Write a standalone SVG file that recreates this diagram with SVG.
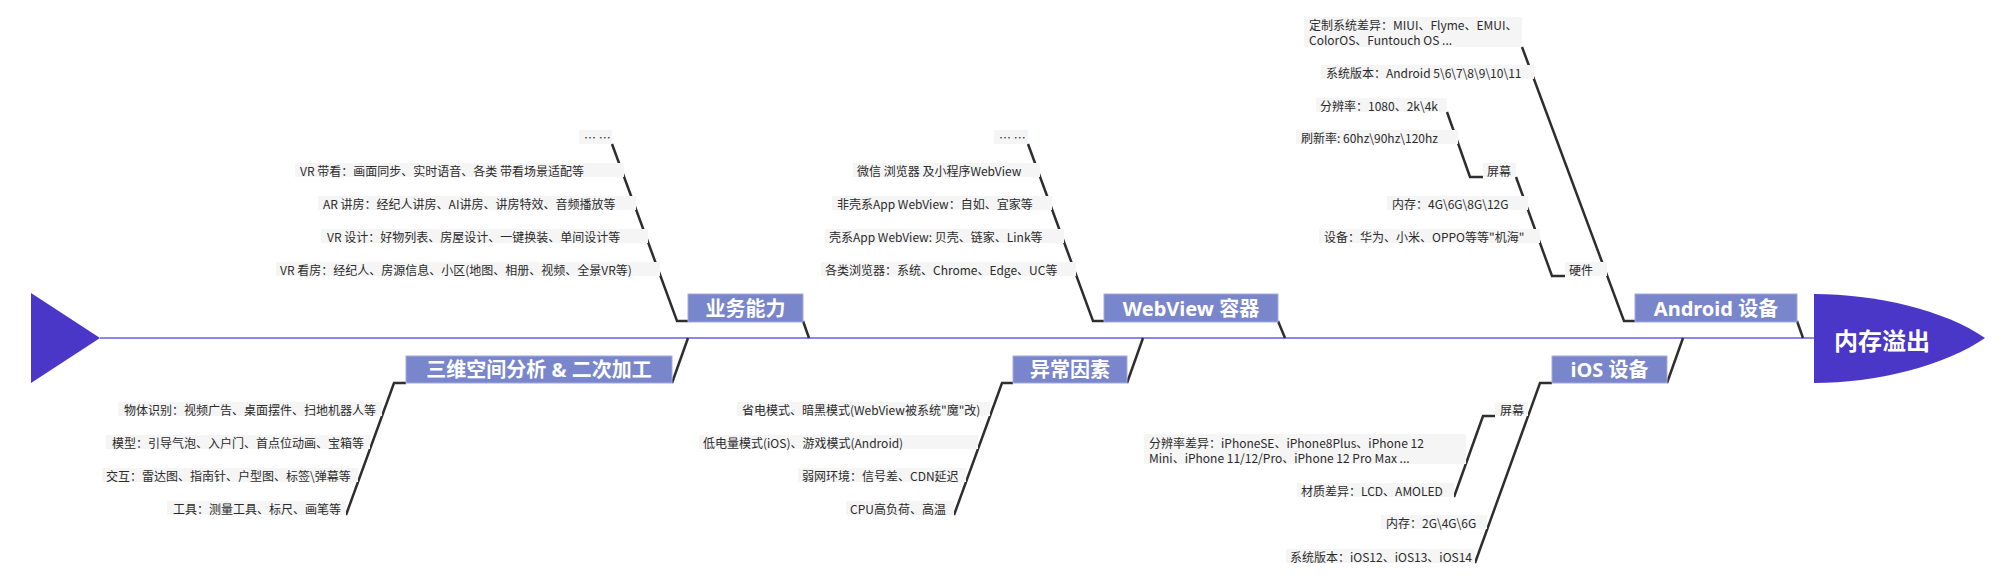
<svg xmlns="http://www.w3.org/2000/svg" width="2002" height="579" viewBox="0 0 2002 579">
<style>
.bone{fill:none;stroke:#2e2e2e;stroke-width:2.5;stroke-linejoin:miter}
.spine{stroke:#6b5ce0;stroke-width:1.6}
.lb rect{fill:#f5f5f5}
.lb text{font-family:"Noto Sans CJK SC","Noto Sans",sans-serif;font-size:12px;fill:#2b2b2b;dominant-baseline:central}
.mb rect{fill:#7986cb;stroke:#a3aae0;stroke-width:1}
.mb text{font-family:"Noto Sans","Noto Sans CJK SC",sans-serif;font-size:20px;font-weight:bold;fill:#ffffff;text-anchor:middle;dominant-baseline:central}
.hd{fill:#4a37c8}
.hd text{font-family:"Noto Sans CJK SC",sans-serif;font-size:24px;font-weight:bold;fill:#ffffff;text-anchor:middle;dominant-baseline:central}
</style>
<rect x="0" y="0" width="2002" height="579" fill="#ffffff"/>
<g id="connectors">
<line class="spine" x1="100" y1="338" x2="1815" y2="338"/>
<polyline class="bone" points="612,144 677,321 688,321"/>
<line class="bone" x1="803" y1="321" x2="809" y2="338"/>
<line class="bone" x1="688" y1="338" x2="672" y2="383"/>
<polyline class="bone" points="406,383 394,383 346,515"/>
<polyline class="bone" points="1028,144 1093,321 1104,321"/>
<line class="bone" x1="1278" y1="321" x2="1285" y2="338"/>
<line class="bone" x1="1143" y1="338" x2="1127" y2="383"/>
<polyline class="bone" points="1013,383 1002,383 954,515"/>
<polyline class="bone" points="1522,47 1624,321 1635,321"/>
<line class="bone" x1="1797" y1="321" x2="1803" y2="338"/>
<polyline class="bone" points="1516,177 1552,276 1565,276"/>
<polyline class="bone" points="1447,112 1470,177 1483,177"/>
<line class="bone" x1="1683" y1="338" x2="1667" y2="383"/>
<polyline class="bone" points="1552,383 1540,383 1475,563"/>
<polyline class="bone" points="1495,416 1483,416 1454,497"/>
</g>
<g id="tail" class="hd"><polygon points="31,293 100,338 31,383"/></g>
<g id="head" class="hd"><path d="M1814,294 C1875,294 1945,310 1985,338 C1945,366 1875,383 1814,383 Z"/><text x="1882" y="339">内存溢出</text></g>

<g id="b1" class="mb"><rect x="688" y="294" width="115" height="28"/><text x="745.5" y="308">业务能力</text></g>
<g id="b1-items" class="lb">
<g id="b1-0"><rect x="579" y="130" width="33" height="14"/><text x="584" y="137">… …</text></g>
<g id="b1-1"><rect x="295" y="163" width="329" height="14"/><text x="300" y="170">VR 带看：画面同步、实时语音、各类 带看场景适配等</text></g>
<g id="b1-2"><rect x="318" y="196" width="318" height="14"/><text x="323" y="203">AR 讲房：经纪人讲房、AI讲房、讲房特效、音频播放等</text></g>
<g id="b1-3"><rect x="321" y="229" width="327" height="14"/><text x="327" y="236">VR 设计：好物列表、房屋设计、一键换装、单间设计等</text></g>
<g id="b1-4"><rect x="276" y="262" width="384" height="14"/><text x="280" y="269">VR 看房：经纪人、房源信息、小区(地图、相册、视频、全景VR等)</text></g>
</g>

<g id="b2" class="mb"><rect x="406" y="356" width="266" height="27"/><text x="539" y="369.5">三维空间分析 &amp; 二次加工</text></g>
<g id="b2-items" class="lb">
<g id="b2-1"><rect x="118" y="402" width="264" height="14"/><text x="124" y="409">物体识别：视频广告、桌面摆件、扫地机器人等</text></g>
<g id="b2-2"><rect x="106" y="435" width="264" height="14"/><text x="112" y="442">模型：引导气泡、入户门、首点位动画、宝箱等</text></g>
<g id="b2-3"><rect x="102" y="468" width="256" height="14"/><text x="106" y="475">交互：雷达图、指南针、户型图、标签\弹幕等</text></g>
<g id="b2-4"><rect x="167" y="501" width="179" height="14"/><text x="173" y="508">工具：测量工具、标尺、画笔等</text></g>
</g>

<g id="b3" class="mb"><rect x="1104" y="294" width="174" height="28"/><text x="1191" y="308">WebView 容器</text></g>
<g id="b3-items" class="lb">
<g id="b3-0"><rect x="994" y="130" width="34" height="14"/><text x="999" y="137">… …</text></g>
<g id="b3-1"><rect x="853" y="163" width="187" height="14"/><text x="857" y="170">微信 浏览器 及小程序WebView</text></g>
<g id="b3-2"><rect x="832" y="196" width="220" height="14"/><text x="837" y="203">非壳系App WebView：自如、宜家等</text></g>
<g id="b3-3"><rect x="825" y="229" width="239" height="14"/><text x="829" y="236">壳系App WebView: 贝壳、链家、Link等</text></g>
<g id="b3-4"><rect x="821" y="262" width="255" height="14"/><text x="825" y="269">各类浏览器：系统、Chrome、Edge、UC等</text></g>
</g>

<g id="b4" class="mb"><rect x="1013" y="356" width="114" height="27"/><text x="1070" y="369.5">异常因素</text></g>
<g id="b4-items" class="lb">
<g id="b4-1"><rect x="737" y="402" width="253" height="14"/><text x="742" y="409">省电模式、暗黑模式(WebView被系统"魔"改)</text></g>
<g id="b4-2"><rect x="699" y="435" width="279" height="14"/><text x="703" y="442">低电量模式(iOS)、游戏模式(Android)</text></g>
<g id="b4-3"><rect x="798" y="468" width="168" height="14"/><text x="802" y="475">弱网环境：信号差、CDN延迟</text></g>
<g id="b4-4"><rect x="846" y="501" width="108" height="14"/><text x="850" y="508">CPU高负荷、高温</text></g>
</g>

<g id="b5" class="mb"><rect x="1635" y="294" width="162" height="28"/><text x="1716" y="308">Android 设备</text></g>
<g id="b5-items" class="lb">
<g id="b5-1"><rect x="1304" y="17" width="218" height="30"/><text x="1309" y="24">定制系统差异：MIUI、Flyme、EMUI、</text><text x="1309" y="39">ColorOS、Funtouch OS ...</text></g>
<g id="b5-2"><rect x="1321" y="65" width="213" height="14"/><text x="1326" y="72">系统版本：Android 5\6\7\8\9\10\11</text></g>
<g id="b5-hw"><rect x="1565" y="262" width="42" height="14"/><text x="1569" y="269">硬件</text></g>
<g id="b5-hw-scr"><rect x="1483" y="163" width="33" height="14"/><text x="1487" y="170">屏幕</text></g>
<g id="b5-hw-scr-1"><rect x="1316" y="98" width="131" height="14"/><text x="1320" y="105">分辨率：1080、2k\4k</text></g>
<g id="b5-hw-scr-2"><rect x="1296" y="130" width="162" height="14"/><text x="1301" y="137">刷新率: 60hz\90hz\120hz</text></g>
<g id="b5-hw-mem"><rect x="1387" y="196" width="141" height="14"/><text x="1392" y="203">内存：4G\6G\8G\12G</text></g>
<g id="b5-hw-dev"><rect x="1319" y="229" width="221" height="14"/><text x="1324" y="236">设备：华为、小米、OPPO等等"机海"</text></g>
</g>

<g id="b6" class="mb"><rect x="1552" y="356" width="115" height="27"/><text x="1609.5" y="369.5">iOS 设备</text></g>
<g id="b6-items" class="lb">
<g id="b6-scr"><rect x="1495" y="402" width="33" height="14"/><text x="1500" y="409">屏幕</text></g>
<g id="b6-scr-1"><rect x="1144" y="434" width="322" height="30"/><text x="1149" y="442">分辨率差异：iPhoneSE、iPhone8Plus、iPhone 12</text><text x="1149" y="457">Mini、iPhone 11/12/Pro、iPhone 12 Pro Max ...</text></g>
<g id="b6-scr-2"><rect x="1297" y="483" width="157" height="14"/><text x="1301" y="490">材质差异：LCD、AMOLED</text></g>
<g id="b6-mem"><rect x="1381" y="515" width="106" height="14"/><text x="1386" y="522">内存：2G\4G\6G</text></g>
<g id="b6-os"><rect x="1286" y="549" width="189" height="14"/><text x="1290" y="556">系统版本：iOS12、iOS13、iOS14</text></g>
</g>
</svg>
